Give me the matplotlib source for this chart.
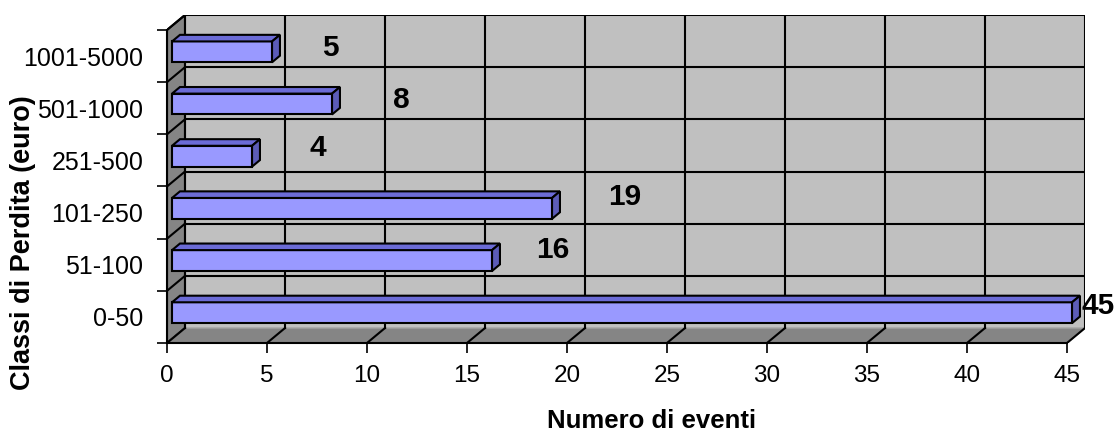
import matplotlib
matplotlib.use("Agg")
import matplotlib.pyplot as plt
from matplotlib.patches import Polygon

plt.rcParams['font.family'] = ['Liberation Sans', 'DejaVu Sans']

classi = ["0-50", "51-100", "101-250", "251-500", "501-1000", "1001-5000"]
eventi = [45, 16, 19, 4, 8, 5]
xticks = [0, 5, 10, 15, 20, 25, 30, 35, 40, 45]

# offset of the value labels (x in value units, y in category units)
lab_dx = [1.55, 3.3, 3.9, 3.55, 3.7, 3.15]
lab_dy = [0.2, 0.29, 0.29, 0.23, 0.16, 0.16]

xmax = 45
dx, dy = 0.9, 0.287      # depth of the 3d box
n = len(classi)

fig = plt.figure(figsize=(11.17, 4.34), dpi=100)
ax = fig.add_axes([167/1117, 1-343/434, (45.9*20)/1117, 328/434])
ax.set_xlim(0, xmax + dx)
ax.set_ylim(0, n + dy)
for s in ax.spines.values():
    s.set_visible(False)

wall = '#c0c0c0'
side = '#858585'
lw = 1.5

# back wall, left wall, floor
ax.add_patch(Polygon([(dx, dy), (xmax+dx, dy), (xmax+dx, n+dy), (dx, n+dy)],
                     closed=True, fc=wall, ec='#d8d8d8', lw=1, zorder=1))
ax.add_patch(Polygon([(0, 0), (dx, dy), (dx, n+dy), (0, n)],
                     closed=True, fc=side, ec='black', lw=lw, zorder=1))
ax.add_patch(Polygon([(0, 0), (xmax, 0), (xmax+dx, dy), (dx, dy)],
                     closed=True, fc=side, ec='#a0a0a0', lw=1, zorder=1))

# grid lines
for v in xticks[1:]:
    ax.plot([v+dx, v+dx], [dy, n+dy], color='black', lw=lw, zorder=2)
    ax.plot([v, v+dx], [0, dy], color='black', lw=lw, zorder=2)
for i in range(1, n+1):
    ax.plot([dx, xmax+dx], [i+dy, i+dy], color='black', lw=lw, zorder=2)
    ax.plot([0, dx], [i, i+dy], color='black', lw=lw, zorder=2)
ax.plot([dx, dx], [dy, n+dy], color='black', lw=lw, zorder=2)
ax.plot([0, dx], [0, dy], color='black', lw=lw, zorder=2)

# front axes
ax.plot([0, 0], [0, n], color='black', lw=lw, zorder=3, clip_on=False)
ax.plot([0, xmax], [0, 0], color='black', lw=lw, zorder=3, clip_on=False)

# bars
h = 0.40
f, b = 0.28, 0.44
for i, v in enumerate(eventi):
    x0 = f*dx
    y0 = i + (1-h)/2 + f*dy
    ax.add_patch(Polygon([(x0, y0), (x0+v, y0), (x0+v, y0+h), (x0, y0+h)],
                         closed=True, fc='#9999ff', ec='black', lw=lw, zorder=5))
    ax.add_patch(Polygon([(x0, y0+h), (x0+v, y0+h), (x0+v+b*dx, y0+h+b*dy), (x0+b*dx, y0+h+b*dy)],
                         closed=True, fc='#6b6bd6', ec='black', lw=lw, zorder=5))
    ax.add_patch(Polygon([(x0+v, y0), (x0+v+b*dx, y0+b*dy), (x0+v+b*dx, y0+h+b*dy), (x0+v, y0+h)],
                         closed=True, fc='#5c5cb8', ec='black', lw=lw, zorder=5))
    ax.text(v + lab_dx[i], i + 0.5 + lab_dy[i], str(v), ha='center', va='center',
            fontsize=21.5, fontweight='bold', zorder=6, clip_on=False)

ax.set_xticks(xticks)
ax.set_xticklabels([str(t) for t in xticks], fontsize=17.5)
ax.set_yticks(range(n+1))
ax.set_yticklabels([])
ax.set_yticks([i + 0.5 for i in range(n)], minor=True)
ax.set_yticklabels(classi, minor=True, fontsize=18)
ax.tick_params(axis='y', which='minor', length=0, pad=17)
ax.tick_params(axis='y', which='major', length=7, width=1.2, direction='out')
ax.tick_params(axis='x', length=7, width=1.2, direction='out', pad=9)

fig.text(652/1117, 1-428/434, "Numero di eventi", ha='center', va='baseline',
         fontsize=18.5, fontweight='bold')
fig.text(23/1117, 1-243/434, "Classi di Perdita (euro)", rotation=90,
         ha='center', va='center', fontsize=19.5, fontweight='bold')

fig.savefig("out.png", dpi=100, facecolor='white')
